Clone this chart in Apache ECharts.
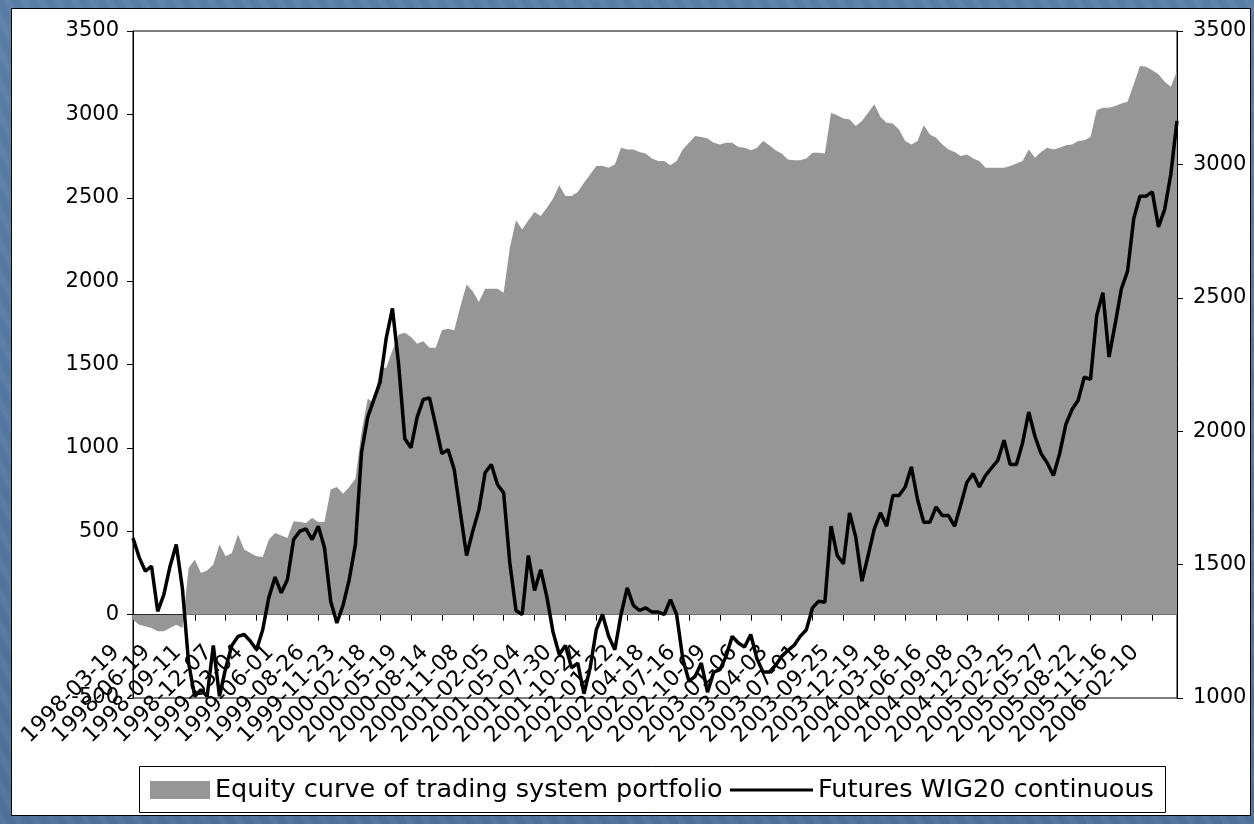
<!doctype html>
<html lang="en">
<head>
<meta charset="UTF-8">
<title>Equity curve vs WIG20</title>
<script src="https://cdn.jsdelivr.net/npm/echarts@6/dist/echarts.min.js"></script>
<style>
    html, body { margin: 0; padding: 0; }
    body {
        width: 1254px; height: 824px; overflow: hidden;
        background: #5a7da6;
        background-image: repeating-linear-gradient(62deg, rgba(255,255,255,0.04) 0px, rgba(255,255,255,0.04) 4px, rgba(0,0,0,0.03) 9px, rgba(0,0,0,0) 15px),
                          linear-gradient(180deg, #5b7fa9 0%, #4f729c 100%);
        position: relative;
    }
    #panel {
        position: absolute; left: 11px; top: 8px; width: 1238px; height: 806px;
        background: #fff; border: 1px solid #000;
    }
    #main { position: absolute; left: 0; top: 0; width: 1254px; height: 824px; }
</style>
</head>
<body>
<div id="panel"></div>
<div id="main"></div>
<script type="text/javascript">
// tick labels on the date axis (one every 5 points)
var tickLabels = ['1998-03-19','1998-06-19','1998-09-11','1998-12-07','1999-03-04','1999-06-01','1999-08-26','1999-11-23',
    '2000-02-18','2000-05-19','2000-08-14','2000-11-08','2001-02-05','2001-05-04','2001-07-30','2001-10-24',
    '2002-01-22','2002-04-18','2002-07-16','2002-10-09','2003-01-06','2003-04-03','2003-07-01','2003-09-25',
    '2003-12-19','2004-03-18','2004-06-16','2004-09-08','2004-12-03','2005-02-25','2005-05-27','2005-08-22',
    '2005-11-16','2006-02-10'];
var pointsPerTick = 5;

// equity curve of the trading system portfolio (left axis)
var equity = [
    -30,-60,-70,-80,-100,-100,-80,-60,-80,280,
    330,250,265,300,420,350,370,480,390,370,
    350,345,450,490,475,460,560,555,550,580,
    555,555,750,765,725,765,815,1095,1295,1270,
    1480,1480,1585,1680,1690,1665,1625,1640,1600,1600,
    1705,1715,1705,1850,1980,1940,1875,1955,1955,1955,
    1930,2200,2365,2310,2365,2415,2390,2440,2495,2575,
    2510,2510,2535,2590,2640,2690,2690,2680,2700,2800,
    2790,2790,2775,2765,2735,2720,2720,2695,2720,2790,
    2830,2870,2865,2855,2830,2820,2830,2830,2805,2800,
    2785,2800,2840,2815,2785,2765,2730,2725,2725,2735,
    2770,2770,2765,3010,2995,2975,2970,2930,2960,3010,
    3060,2985,2950,2945,2910,2840,2820,2840,2935,2880,
    2860,2820,2790,2775,2750,2760,2735,2720,2680,2680,
    2680,2680,2690,2705,2720,2790,2740,2775,2800,2790,
    2800,2815,2820,2840,2845,2865,3025,3040,3040,3050,
    3065,3075,3180,3290,3285,3265,3240,3195,3165,3260
];

// futures WIG20 continuous (right axis)
var wig20 = [
    1600,1527,1475,1494,1325,1388,1494,1575,1410,1131,
    1006,1031,1006,1197,1006,1112,1197,1231,1238,1213,
    1181,1256,1378,1453,1394,1444,1594,1625,1634,1594,
    1644,1563,1363,1281,1347,1444,1575,1922,2053,2119,
    2184,2350,2460,2250,1972,1938,2053,2119,2125,2022,
    1916,1931,1856,1694,1534,1625,1706,1844,1875,1800,
    1769,1506,1328,1313,1534,1403,1481,1378,1247,1163,
    1197,1113,1131,1016,1113,1256,1313,1231,1181,1313,
    1413,1347,1328,1338,1322,1322,1313,1369,1313,1147,
    1063,1081,1131,1022,1097,1106,1156,1231,1206,1191,
    1238,1147,1097,1097,1122,1156,1178,1197,1231,1256,
    1338,1363,1359,1644,1534,1503,1694,1603,1438,1534,
    1634,1694,1644,1759,1759,1791,1866,1744,1659,1659,
    1716,1684,1684,1644,1725,1809,1841,1791,1834,1863,
    1891,1966,1875,1875,1956,2072,1981,1916,1881,1834,
    1916,2025,2081,2116,2203,2194,2434,2519,2278,2403,
    2534,2600,2797,2881,2881,2897,2766,2831,2963,3163
];

var seriesNames = ['Equity curve of trading system portfolio', 'Futures WIG20 continuous'];

var categories = equity.map(function (v, i) { return String(i); });

var font = '"DejaVu Sans", Arial, sans-serif';
var myChart = echarts.init(document.getElementById('main'));

var plainNumber = function (v) { return String(v); };
var legendText = { fontFamily: font, fontSize: 25.5, color: '#000' };

var option = {
    animation: false,
    backgroundColor: 'transparent',
    textStyle: { fontFamily: font, color: '#000' },
    grid: {
        left: 133, right: 77, top: 31, bottom: 126,
        show: true, borderColor: '#000', borderWidth: 1, backgroundColor: 'transparent'
    },
    // legend frame
    graphic: [{
        type: 'rect', left: 139, top: 766, z: 1,
        shape: { width: 1026, height: 46 },
        style: { fill: '#fff', stroke: '#000', lineWidth: 1 }
    }],
    legend: [
        {
            left: 150, top: 777, padding: 0,
            itemWidth: 60, itemHeight: 18,
            textStyle: legendText,
            data: [{ name: seriesNames[0], icon: 'rect' }]
        },
        {
            left: 730, top: 777, padding: 0,
            itemWidth: 83, itemHeight: 18,
            textStyle: legendText,
            data: [{ name: seriesNames[1], icon: 'path://M0,0L0,0M0,7.5L83,7.5L83,10.5L0,10.5ZM83,18L83,18' }]
        }
    ],
    xAxis: {
        type: 'category',
        data: categories,
        boundaryGap: false,
        axisLine: { onZero: true, onZeroAxisIndex: 0, lineStyle: { color: '#000', width: 1 } },
        axisTick: { interval: pointsPerTick - 1, length: 6, lineStyle: { color: '#000' } },
        axisLabel: {
            interval: pointsPerTick - 1,
            rotate: 45,
            margin: -66,
            padding: [0, 24, 0, 0],
            showMinLabel: true,
            showMaxLabel: true,
            fontSize: 22,
            color: '#000',
            fontFamily: font,
            formatter: function (v, idx) {
                return idx % pointsPerTick === 0 ? tickLabels[idx / pointsPerTick] : '';
            }
        },
        splitLine: { show: false }
    },
    yAxis: [
        {
            type: 'value', min: -500, max: 3500, interval: 500,
            axisLine: { show: true, lineStyle: { color: '#000' } },
            axisTick: { show: true, length: 6, lineStyle: { color: '#000' } },
            axisLabel: { fontSize: 21, color: '#000', margin: 14, fontFamily: font, formatter: plainNumber },
            splitLine: { show: false }
        },
        {
            type: 'value', min: 1000, max: 3500, interval: 500, position: 'right',
            axisLine: { show: true, lineStyle: { color: '#000' } },
            axisTick: { show: true, length: 6, lineStyle: { color: '#000' } },
            axisLabel: { fontSize: 21, color: '#000', margin: 16, fontFamily: font, formatter: plainNumber },
            splitLine: { show: false }
        }
    ],
    series: [
        {
            name: seriesNames[0],
            type: 'line',
            yAxisIndex: 0,
            data: equity,
            symbol: 'none',
            color: '#969696',
            lineStyle: { width: 0, color: '#969696' },
            areaStyle: { color: '#969696', opacity: 1 },
            z: 2
        },
        {
            name: seriesNames[1],
            type: 'line',
            yAxisIndex: 1,
            data: wig20,
            symbol: 'none',
            color: '#000',
            lineStyle: { width: 3.5, color: '#000' },
            z: 3
        }
    ]
};

myChart.setOption(option);
</script>
</body>
</html>
